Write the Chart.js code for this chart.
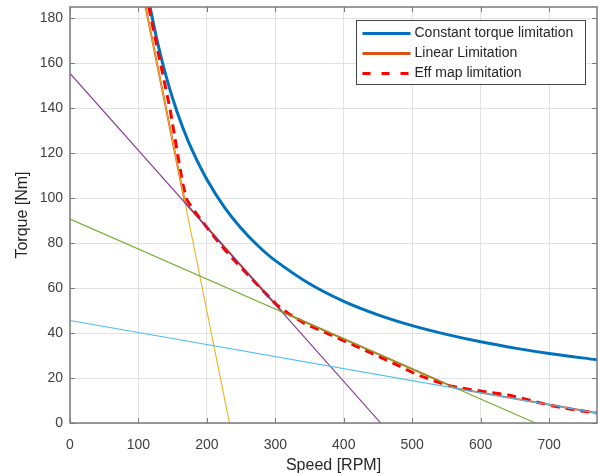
<!DOCTYPE html>
<html>
<head>
<meta charset="utf-8">
<title>Torque limitation</title>
<script src="https://cdn.jsdelivr.net/npm/chart.js@4.4.1/dist/chart.umd.min.js"></script>
<style>
    body { margin: 0; background: #ffffff; }
</style>
</head>
<body>
<canvas id="torqueChart" width="598" height="474"></canvas>
<script>
// Constant torque limitation (hyperbola)
var constSpeed = [117, 125, 135, 150, 165, 180, 200, 225, 250, 275, 300, 350, 400, 450, 500, 550, 600, 650, 700, 770];
var constTorque = [185, 173.2, 160.4, 144.3, 131.2, 120.3, 108.3, 96.2, 86.6, 78.7, 72.2, 61.9, 54.1, 48.1, 43.3, 39.4, 36.1, 33.3, 30.9, 28.1];

// Linear limitation (corners)
var linSpeed = [110.5, 168, 310, 564.5, 770];
var linTorque = [185, 98, 49.4, 15.4, 4.4];

// Efficiency map limitation
var effSpeed = [115, 130, 146, 157, 165, 171, 185, 205, 224, 244, 263, 283, 302, 320, 346, 375, 402, 429, 453, 480, 507, 534, 558, 587, 614, 643, 673, 702, 730, 770];
var effTorque = [185, 163, 140, 120, 106, 99, 93, 85, 77.8, 71, 65, 58.5, 52.6, 48.5, 43.7, 40, 36.3, 32.6, 29.3, 25.5, 21.5, 18.5, 16.3, 14.8, 13.6, 12.3, 10, 7.8, 6.2, 4.4];

// thin construction lines
var steepSpeed = [110.5, 233];
var steepTorque = [185, 0];
var purpleSpeed = [0, 454];
var purpleTorque = [155.5, 0];
var greenSpeed = [0, 680];
var greenTorque = [90.7, 0];
var cyanSpeed = [0, 770];
var cyanTorque = [45.6, 4.4];

var xTicksMax = 770;
var yTicksMax = 185;

var fontFamily = "'Liberation Sans', Arial, Helvetica, sans-serif";

function toPoints(xs, ys) {
    var pts = [];
    for (var i = 0; i < xs.length; i++) {
        pts.push({ x: xs[i], y: ys[i] });
    }
    return pts;
}

function thinLine(xs, ys, color, order) {
    return {
        label: "",
        data: toPoints(xs, ys),
        borderColor: color,
        borderWidth: 1.1,
        pointRadius: 0,
        order: order,
        inLegend: false
    };
}

var frameAndLegend = {
    id: "frameAndLegend",
    afterDraw: function (chart) {
        var ctx = chart.ctx;
        var area = chart.chartArea;
        var xs = chart.scales.x;
        var ys = chart.scales.y;

        ctx.save();
        ctx.strokeStyle = "#7a7a7a";
        ctx.lineWidth = 1;
        ctx.beginPath();
        xs.ticks.forEach(function (t) {
            var px = Math.round(xs.getPixelForValue(t.value)) + 0.5;
            ctx.moveTo(px, area.bottom);
            ctx.lineTo(px, area.bottom - 5);
            ctx.moveTo(px, area.top);
            ctx.lineTo(px, area.top + 5);
        });
        ys.ticks.forEach(function (t) {
            var py = Math.round(ys.getPixelForValue(t.value)) + 0.5;
            ctx.moveTo(area.left, py);
            ctx.lineTo(area.left + 5, py);
            ctx.moveTo(area.right, py);
            ctx.lineTo(area.right - 5, py);
        });
        ctx.stroke();

        ctx.lineWidth = 1.5;
        ctx.strokeRect(area.left, area.top, area.right - area.left, area.bottom - area.top);

        // legend box
        var boxW = 229, boxH = 64;
        var bx = Math.round(area.right - 12 - boxW) + 0.5;
        var by = Math.round(area.top + 13) + 0.5;
        ctx.fillStyle = "#ffffff";
        ctx.fillRect(bx, by, boxW, boxH);
        ctx.strokeStyle = "#444444";
        ctx.lineWidth = 1;
        ctx.strokeRect(bx, by, boxW, boxH);

        ctx.font = "14px " + fontFamily;
        ctx.textBaseline = "middle";
        ctx.textAlign = "left";
        var row = 0;
        chart.data.datasets.forEach(function (ds) {
            if (ds.inLegend === false) return;
            var cy = by + 13 + row * 20;
            ctx.strokeStyle = ds.borderColor;
            ctx.lineWidth = 3;
            ctx.setLineDash(ds.borderDash ? [8, 11] : []);
            ctx.beginPath();
            ctx.moveTo(bx + 6, cy);
            ctx.lineTo(bx + 54, cy);
            ctx.stroke();
            ctx.setLineDash([]);
            ctx.fillStyle = "#262626";
            ctx.fillText(ds.label, bx + 58, cy);
            row++;
        });
        ctx.restore();
    }
};

var chart = new Chart(document.getElementById("torqueChart").getContext("2d"), {
    type: "line",
    data: {
        datasets: [
            {
                label: "Constant torque limitation",
                data: toPoints(constSpeed, constTorque),
                borderColor: "#0072BD",
                borderWidth: 3,
                pointRadius: 0,
                tension: 0.3,
                order: 7
            },
            {
                label: "Linear Limitation",
                data: toPoints(linSpeed, linTorque),
                borderColor: "#D95319",
                borderWidth: 2,
                pointRadius: 0,
                order: 6
            },
            {
                label: "Eff map limitation",
                data: toPoints(effSpeed, effTorque),
                borderColor: "#FF0000",
                borderWidth: 3,
                borderDash: [9, 6],
                pointRadius: 0,
                order: 5
            },
            thinLine(steepSpeed, steepTorque, "#EDB120", 4),
            thinLine(purpleSpeed, purpleTorque, "#7E2F8E", 3),
            thinLine(greenSpeed, greenTorque, "#77AC30", 2),
            thinLine(cyanSpeed, cyanTorque, "#4DBEEE", 1)
        ]
    },
    options: {
        responsive: false,
        animation: false,
        layout: {
            padding: { top: 7, right: 1, left: 0, bottom: 0 }
        },
        plugins: {
            legend: { display: false },
            tooltip: { enabled: false }
        },
        scales: {
            x: {
                type: "linear",
                min: 0,
                max: xTicksMax,
                ticks: {
                    stepSize: 100,
                    includeBounds: false,
                    maxRotation: 0,
                    padding: 14,
                    color: "#404040",
                    font: { size: 14, family: fontFamily }
                },
                grid: { color: "#e2e2e2", drawTicks: false },
                border: { display: false },
                title: {
                    display: true,
                    text: "Speed [RPM]",
                    color: "#262626",
                    padding: 0,
                    font: { size: 16, family: fontFamily, lineHeight: 1 }
                },
                afterFit: function (scale) {
                    scale.height = 51;
                    scale.paddingLeft = 0;
                    scale.paddingRight = 0;
                }
            },
            y: {
                type: "linear",
                min: 0,
                max: yTicksMax,
                ticks: {
                    stepSize: 20,
                    includeBounds: false,
                    padding: 7,
                    color: "#404040",
                    font: { size: 14, family: fontFamily }
                },
                grid: { color: "#e2e2e2", drawTicks: false },
                border: { display: false },
                title: {
                    display: true,
                    text: "Torque [Nm]",
                    color: "#262626",
                    padding: { top: 15, bottom: 0 },
                    font: { size: 16, family: fontFamily, lineHeight: 1 }
                },
                afterFit: function (scale) {
                    scale.width = 70;
                    scale.paddingTop = 0;
                    scale.paddingBottom = 0;
                }
            }
        }
    },
    plugins: [frameAndLegend]
});
</script>
</body>
</html>
